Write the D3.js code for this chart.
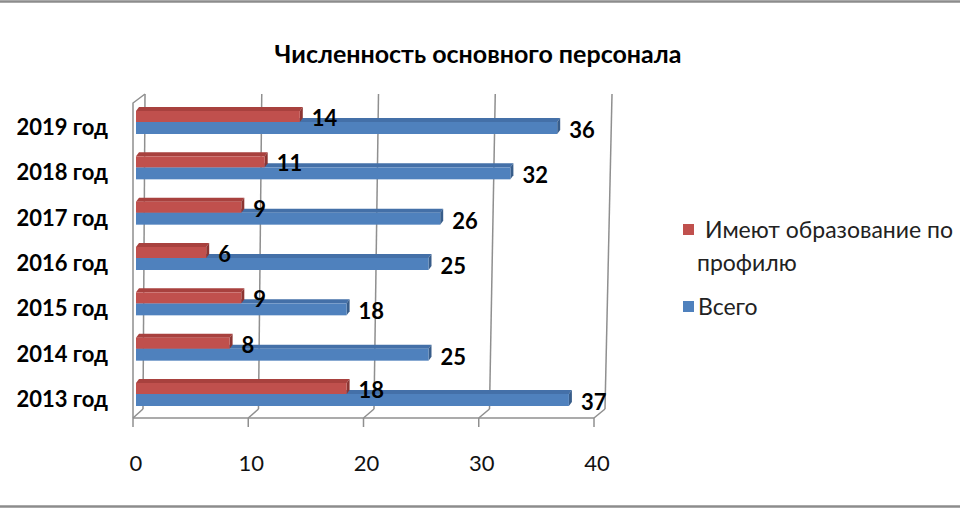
<!DOCTYPE html>
<html>
<head>
<meta charset="utf-8">
<script src="https://cdn.jsdelivr.net/npm/d3@7"></script>
<style>
  body { margin: 0; background: #fff; }
  svg text { font-family: Lato, "Open Sans", sans-serif; }
</style>
</head>
<body>
<div id="chart"></div>
<script>
// chart data
var years = ["2013 год", "2014 год", "2015 год", "2016 год", "2017 год", "2018 год", "2019 год"];
var profile = [18, 8, 9, 6, 9, 11, 14];   // Имеют образование по профилю
var total = [37, 25, 18, 25, 26, 32, 36]; // Всего
var ticks = [0, 10, 20, 30, 40];
var seriesNames = ["Имеют образование по", "профилю", "Всего"];
var title = "Численность основного персонала";

var width = 960, height = 510;
var svg = d3.select("#chart").append("svg")
    .attr("width", width)
    .attr("height", height);

// border lines top and bottom
svg.append("line").attr("x1", 0).attr("x2", width).attr("y1", 1.5).attr("y2", 1.5)
    .attr("stroke", "#8c8c8c").attr("stroke-width", 2.5);
svg.append("line").attr("x1", 0).attr("x2", width).attr("y1", 506.5).attr("y2", 506.5)
    .attr("stroke", "#8c8c8c").attr("stroke-width", 2.5);

svg.append("text")
    .attr("x", 478).attr("y", 63)
    .attr("text-anchor", "middle")
    .style("font-size", "25px").style("font-weight", "bold")
    .text(title);

// scales: front floor edge, back wall (top and bottom, slight perspective), bars
var xFront = d3.scaleLinear().domain([0, 40]).range([133, 594]);
var xBackTop = d3.scaleLinear().domain([0, 40]).range([145, 612]);
var xBackBot = d3.scaleLinear().domain([0, 40]).range([143, 605]);
var xBar = d3.scaleLinear().domain([0, 40]).range([136, 604]);
var y = d3.scalePoint().domain(years.slice().reverse()).range([122, 394]);

var wallTop = 94, backBot = 409, frontBot = 418;
var grid = "#8f8f8f";

// back wall gridlines
svg.append("g").selectAll("line").data(ticks).enter().append("line")
    .attr("x1", function(d) { return xBackTop(d); })
    .attr("x2", function(d) { return xBackBot(d); })
    .attr("y1", wallTop).attr("y2", backBot)
    .attr("stroke", grid).attr("stroke-width", 1.5);

// floor: diagonals + front edge + tick marks
svg.append("g").selectAll("line").data(ticks).enter().append("line")
    .attr("x1", function(d) { return xFront(d); })
    .attr("x2", function(d) { return xBackBot(d); })
    .attr("y1", frontBot).attr("y2", backBot)
    .attr("stroke", grid).attr("stroke-width", 1.5);
svg.append("line")
    .attr("x1", xFront(0)).attr("x2", xFront(40))
    .attr("y1", frontBot).attr("y2", frontBot)
    .attr("stroke", grid).attr("stroke-width", 1.5);
svg.append("g").selectAll("line").data(ticks).enter().append("line")
    .attr("x1", function(d) { return xFront(d); })
    .attr("x2", function(d) { return xFront(d); })
    .attr("y1", frontBot).attr("y2", frontBot + 9)
    .attr("stroke", grid).attr("stroke-width", 1.5);

// left wall front edge
svg.append("path")
    .attr("d", "M" + xFront(0) + "," + frontBot + "L" + xFront(0) + "," + (wallTop + 9) +
        "L" + xBackTop(0) + "," + wallTop)
    .attr("fill", "none").attr("stroke", grid).attr("stroke-width", 1.5);

// tick labels
svg.append("g").selectAll("text").data(ticks).enter().append("text")
    .attr("x", function(d) { return xFront(d) + 3; })
    .attr("y", 471)
    .attr("text-anchor", "middle")
    .style("font-size", "22px").attr("fill", "#111")
    .text(function(d) { return d; });

// category labels
svg.append("g").selectAll("text").data(years).enter().append("text")
    .attr("x", 108)
    .attr("y", function(d) { return y(d) + 13; })
    .attr("text-anchor", "end")
    .style("font-size", "22px").style("font-weight", "bold")
    .text(function(d) { return d; });

// 3d bar helper
var dx = 3, dy = 4;
function bar3d(g, x0, x1, yTop, h, cFront, cTop, cSide) {
  g.append("path")
    .attr("d", "M" + x0 + "," + yTop + "L" + (x0 + dx) + "," + (yTop - dy) + "L" + (x1 + dx) + "," + (yTop - dy) +
        "L" + x1 + "," + yTop + "Z")
    .attr("fill", cTop);
  g.append("path")
    .attr("d", "M" + x1 + "," + yTop + "L" + (x1 + dx) + "," + (yTop - dy) + "L" + (x1 + dx) + "," + (yTop + h - dy) +
        "L" + x1 + "," + (yTop + h) + "Z")
    .attr("fill", cSide);
  g.append("rect")
    .attr("x", x0).attr("y", yTop)
    .attr("width", x1 - x0).attr("height", h)
    .attr("fill", cFront);
}

var bars = svg.append("g");
years.forEach(function(yr, i) {
  var yc = y(yr);
  bar3d(bars, xBar(0), xBar(total[i]), yc, 12, "#4f81bd", "#4470a8", "#385d8a");
  bar3d(bars, xBar(0), xBar(profile[i]), yc - 11, 11, "#c0504d", "#a8413e", "#8c3532");
});

// value labels
svg.append("g").selectAll("text").data(years).enter().append("text")
    .attr("x", function(d, i) { return xBar(total[i]) + 12; })
    .attr("y", function(d) { return y(d) + 16; })
    .style("font-size", "22px").style("font-weight", "bold")
    .text(function(d, i) { return total[i]; });
svg.append("g").selectAll("text").data(years).enter().append("text")
    .attr("x", function(d, i) { return xBar(profile[i]) + 12; })
    .attr("y", function(d) { return y(d) + 4; })
    .style("font-size", "22px").style("font-weight", "bold")
    .text(function(d, i) { return profile[i]; });

// legend
var legend = svg.append("g");
legend.append("rect").attr("x", 683).attr("y", 224).attr("width", 11).attr("height", 11).attr("fill", "#c0504d");
legend.append("text").attr("x", 705).attr("y", 238).style("font-size", "23px").attr("fill", "#222").text(seriesNames[0]);
legend.append("text").attr("x", 697).attr("y", 271).style("font-size", "23px").attr("fill", "#222").text(seriesNames[1]);
legend.append("rect").attr("x", 683).attr("y", 301).attr("width", 11).attr("height", 11).attr("fill", "#4f81bd");
legend.append("text").attr("x", 698).attr("y", 315).style("font-size", "23px").attr("fill", "#222").text(seriesNames[2]);
</script>
</body>
</html>
